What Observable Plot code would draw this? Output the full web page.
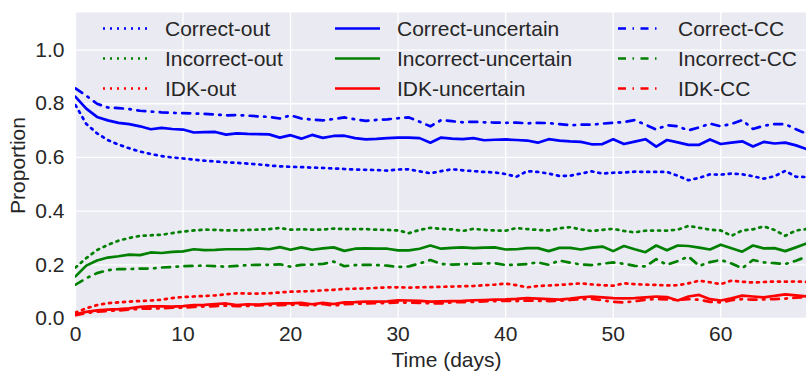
<!DOCTYPE html>
<html><head><meta charset="utf-8">
<script src="https://cdn.jsdelivr.net/npm/d3@7"></script>
<script src="https://cdn.jsdelivr.net/npm/@observablehq/plot@0.6"></script>
<style>body{margin:0;background:#fff;overflow:hidden;}</style>
</head><body><div id="chart"></div>
<script>
const days = [0,1,2,3,4,5,6,7,8,9,10,11,12,13,14,15,16,17,18,19,20,21,22,23,24,25,26,27,28,29,30,31,32,33,34,35,36,37,38,39,40,41,42,43,44,45,46,47,48,49,50,51,52,53,54,55,56,57,58,59,60,61,62,63,64,65,66,67,68];

const correctOut = [.795,.725,.690,.665,.648,.634,.622,.613,.605,.600,.596,.592,.588,.585,.582,.580,.577,.574,.570,.567,.565,.564,.562,.561,.559,.557,.555,.554,.553,.551,.555,.556,.548,.541,.549,.556,.552,.549,.546,.544,.538,.528,.549,.546,.540,.531,.532,.540,.548,.540,.543,.544,.547,.546,.546,.546,.532,.515,.524,.537,.536,.540,.537,.530,.521,.530,.550,.528,.527];
const incorrectOut = [.190,.225,.255,.274,.290,.300,.308,.310,.312,.318,.324,.328,.331,.330,.328,.328,.330,.331,.333,.337,.331,.332,.331,.331,.335,.333,.333,.333,.331,.330,.328,.318,.330,.338,.334,.332,.326,.334,.330,.328,.327,.337,.333,.330,.328,.336,.340,.332,.326,.330,.334,.326,.321,.327,.328,.327,.331,.345,.338,.331,.328,.308,.328,.332,.343,.330,.308,.328,.333];
const idkOut = [.022,.038,.050,.057,.060,.063,.065,.067,.070,.076,.080,.082,.084,.086,.090,.094,.093,.093,.094,.097,.100,.101,.102,.105,.107,.110,.111,.112,.114,.116,.116,.115,.116,.117,.118,.119,.120,.121,.124,.126,.130,.124,.116,.121,.123,.125,.128,.131,.127,.124,.122,.131,.128,.126,.125,.123,.124,.131,.141,.135,.128,.141,.137,.134,.136,.138,.137,.138,.136];
const correctUncertain = [.826,.782,.751,.738,.729,.724,.716,.705,.710,.706,.704,.693,.694,.695,.685,.690,.688,.687,.686,.674,.683,.670,.684,.673,.680,.681,.672,.667,.669,.672,.674,.674,.672,.655,.674,.670,.668,.672,.664,.666,.667,.665,.663,.655,.668,.663,.660,.658,.649,.650,.668,.650,.659,.668,.640,.665,.656,.647,.647,.667,.650,.655,.660,.641,.658,.652,.655,.645,.631];
const incorrectUncertain = [.157,.197,.216,.227,.232,.238,.236,.246,.244,.248,.250,.258,.255,.256,.258,.258,.258,.261,.258,.266,.256,.265,.256,.261,.265,.252,.260,.261,.260,.260,.254,.254,.260,.272,.260,.263,.265,.262,.264,.265,.257,.258,.262,.262,.251,.263,.263,.257,.264,.268,.251,.270,.258,.247,.272,.254,.272,.270,.264,.257,.275,.262,.249,.272,.261,.262,.251,.265,.280];
const idkUncertain = [.016,.025,.030,.033,.035,.038,.043,.045,.045,.044,.046,.050,.051,.054,.056,.050,.053,.052,.055,.056,.056,.058,.053,.058,.054,.060,.061,.063,.063,.064,.068,.067,.066,.063,.064,.065,.066,.068,.069,.070,.071,.073,.076,.074,.072,.070,.074,.079,.082,.079,.076,.075,.076,.079,.082,.080,.067,.082,.088,.072,.067,.075,.085,.082,.079,.084,.090,.086,.082];
const correctCC = [.857,.830,.800,.786,.784,.780,.774,.771,.768,.766,.765,.764,.762,.760,.757,.758,.756,.753,.751,.745,.757,.745,.741,.738,.743,.749,.742,.736,.740,.742,.746,.749,.733,.716,.739,.735,.731,.733,.731,.730,.729,.730,.727,.729,.728,.724,.720,.722,.722,.726,.729,.732,.739,.722,.704,.720,.716,.701,.712,.726,.716,.725,.739,.706,.718,.724,.724,.705,.688];
const incorrectCC = [.126,.150,.169,.180,.184,.184,.186,.186,.190,.192,.195,.196,.197,.195,.193,.196,.199,.200,.200,.202,.193,.200,.201,.203,.212,.195,.199,.200,.199,.197,.192,.194,.205,.218,.203,.201,.202,.204,.205,.206,.199,.200,.203,.209,.200,.216,.208,.201,.199,.204,.209,.204,.196,.194,.221,.200,.214,.231,.196,.210,.218,.205,.187,.218,.209,.206,.203,.215,.231];
const idkCC = [.012,.020,.025,.028,.030,.033,.036,.037,.038,.040,.040,.043,.045,.046,.048,.046,.047,.049,.050,.050,.051,.052,.049,.054,.048,.053,.055,.056,.057,.058,.060,.059,.058,.057,.056,.060,.061,.062,.064,.065,.066,.065,.067,.066,.065,.066,.069,.072,.073,.068,.062,.060,.064,.070,.073,.071,.069,.072,.070,.062,.060,.068,.072,.070,.071,.072,.074,.078,.080];

const seriesNames = ["Correct-out","Incorrect-out","IDK-out","Correct-uncertain","Incorrect-uncertain","IDK-uncertain","Correct-CC","Incorrect-CC","IDK-CC"];
const seriesValues = [correctOut, incorrectOut, idkOut, correctUncertain, incorrectUncertain, idkUncertain, correctCC, incorrectCC, idkCC];
const xTicks = [0,10,20,30,40,50,60];
const yTicks = [0,0.2,0.4,0.6,0.8,1.0];

// styles
const BLUE = "#0000ff", GREEN = "#008000", RED = "#ff0000";
const DOT = "2,5", DASHDOT = "8,6.5,1.5,6.5";
const styles = {
  "Correct-out": [BLUE, DOT], "Incorrect-out": [GREEN, DOT], "IDK-out": [RED, DOT],
  "Correct-uncertain": [BLUE, null], "Incorrect-uncertain": [GREEN, null], "IDK-uncertain": [RED, null],
  "Correct-CC": [BLUE, DASHDOT], "Incorrect-CC": [GREEN, DASHDOT], "IDK-CC": [RED, DASHDOT]
};
const LW = 2.7;
const FONT = "'Liberation Sans', Arial, sans-serif";
const TXT = "#262626";

const rows = seriesNames.map((name, k) => seriesValues[k].map((v, i) => ({name, day: days[i], value: v})));

const plot = Plot.plot({
  width: 806, height: 372,
  marginLeft: 75, marginRight: -11, marginTop: 12, marginBottom: 54,
  style: {fontFamily: FONT, color: TXT, background: "#fff"},
  x: {domain: [0, 69]},
  y: {domain: [0, 1.14]},
  marks: [
    Plot.frame({fill: "#EAEAF2", stroke: null}),
    Plot.gridX(xTicks, {stroke: "#fff", strokeOpacity: 1, strokeWidth: 1.3}),
    Plot.gridY(yTicks, {stroke: "#fff", strokeOpacity: 1, strokeWidth: 1.3}),
    Plot.axisX(xTicks, {tickSize: 0, tickPadding: 8, fontSize: 21, label: null, tickFormat: d3.format("d")}),
    Plot.axisY(yTicks, {tickSize: 0, tickPadding: 11, fontSize: 21, label: null, tickFormat: d3.format(".1f")}),
    ...seriesNames.map((name, k) => Plot.line(rows[k], {
      x: "day", y: "value", stroke: styles[name][0], strokeWidth: LW,
      strokeDasharray: styles[name][1] || undefined, clip: true
    })),
    Plot.text(["Proportion"], {frameAnchor: "left", dx: -57, rotate: -90, text: d => d, fontSize: 21, fill: TXT, textAnchor: "middle", lineAnchor: "middle"}),
    Plot.text(["Time (days)"], {frameAnchor: "bottom", dy: 42, text: d => d, fontSize: 21, fill: TXT, textAnchor: "middle", lineAnchor: "middle"})
  ]
});

// legend (3 columns, no frame)
const svg = d3.select(plot);
const colX = [[103, 165], [335, 397], [618, 678]];
const rowY = [28.5, 58.5, 88.5];
const g = svg.append("g").attr("font-family", FONT).attr("font-size", 21).attr("fill", TXT).attr("text-anchor", "start");
seriesNames.forEach((name, k) => {
  const c = Math.floor(k / 3), r = k % 3;
  const [lx, tx] = colX[c];
  const y = rowY[r];
  g.append("line").attr("x1", lx).attr("x2", lx + 45).attr("y1", y).attr("y2", y)
    .attr("stroke", styles[name][0]).attr("stroke-width", LW)
    .attr("stroke-dasharray", styles[name][1]);
  g.append("text").attr("x", tx).attr("y", y + 0.5).attr("dy", "0.35em").attr("text-anchor", "start").text(name);
});

document.getElementById("chart").append(plot);
</script>
</body></html>
